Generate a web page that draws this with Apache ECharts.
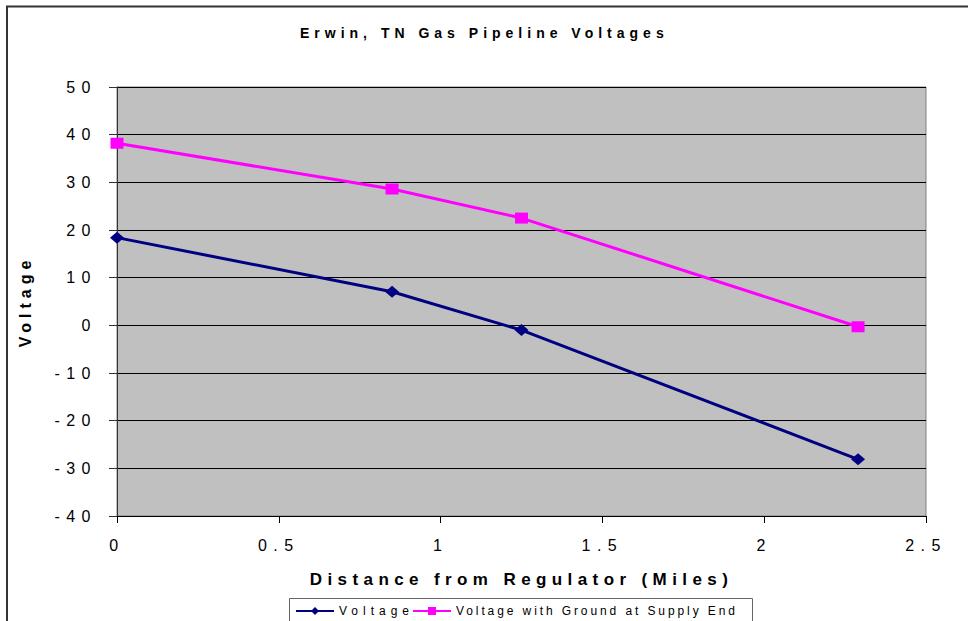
<!DOCTYPE html>
<html>
<head>
<meta charset="utf-8">
<script src="https://cdn.jsdelivr.net/npm/echarts@6/dist/echarts.min.js"></script>
<style>
  html, body { margin: 0; padding: 0; background: #fff; }
  #chart { width: 968px; height: 621px; }
</style>
</head>
<body>
<div id="chart"></div>
<script>
// ---- data ----
const titleText = 'Erwin, TN Gas Pipeline Voltages';
const xAxisName = 'Distance from Regulator (Miles)';
const yAxisName = 'Voltage';
const seriesNames = ['Voltage', 'Voltage with Ground at Supply End'];
const distances = [0, 0.85, 1.25, 2.29];
const voltage = [18.4, 7.05, -1.0, -28.1];
const voltageGround = [38.2, 28.6, 22.5, -0.3];
const xTicks = { min: 0, max: 2.5, interval: 0.5 };
const yTicks = { min: -40, max: 50, interval: 10 };

const FONT = '"Liberation Sans", Arial, sans-serif';

const chart = echarts.init(document.getElementById('chart'), null, { renderer: 'svg' });

const option = {
  animation: false,
  backgroundColor: '#ffffff',
  title: {
    text: titleText,
    left: 300,
    top: 26,
    padding: 0,
    textStyle: { fontFamily: FONT, fontSize: 14, fontWeight: 'bold', color: '#000' }
  },
  graphic: [
    {
      type: 'rect', z: -10, silent: true,
      shape: { x: 7, y: 6.5, width: 1100, height: 800 },
      style: { fill: 'none', stroke: '#333', lineWidth: 2 }
    },
    {
      type: 'rect', z: -5, silent: true,
      shape: { x: 289.5, y: 598.5, width: 463, height: 40 },
      style: { fill: '#fff', stroke: '#666', lineWidth: 1 }
    }
  ],
  legend: [
    {
      data: [seriesNames[0]], left: 295, top: 605, padding: 0,
      itemWidth: 38, itemHeight: 10, itemGap: 0,
      textStyle: { fontFamily: FONT, fontSize: 12, color: '#000' }
    },
    {
      data: [seriesNames[1]], left: 412, top: 605, padding: 0,
      itemWidth: 38, itemHeight: 10, itemGap: 0,
      textStyle: { fontFamily: FONT, fontSize: 12, color: '#000' }
    }
  ],
  grid: {
    left: 117, right: 42, top: 87, bottom: 105,
    show: true, backgroundColor: '#c0c0c0', borderColor: '#808080', borderWidth: 1
  },
  xAxis: {
    type: 'value',
    min: xTicks.min, max: xTicks.max, interval: xTicks.interval,
    name: xAxisName, nameLocation: 'middle', nameGap: 55,
    nameTextStyle: { fontFamily: FONT, fontSize: 17, fontWeight: 'bold', color: '#000' },
    axisLine: { show: true, onZero: false, lineStyle: { color: '#000', width: 1 } },
    axisTick: { show: true, length: 7, lineStyle: { color: '#000' } },
    axisLabel: { margin: 21, fontFamily: FONT, fontSize: 16, color: '#000' },
    splitLine: { show: false }
  },
  yAxis: {
    type: 'value',
    min: yTicks.min, max: yTicks.max, interval: yTicks.interval,
    name: yAxisName, nameLocation: 'middle', nameGap: 84,
    nameTextStyle: { fontFamily: FONT, fontSize: 16, fontWeight: 'bold', color: '#000' },
    axisLine: { show: true, onZero: false, lineStyle: { color: '#333', width: 1 } },
    axisTick: { show: true, length: 8, lineStyle: { color: '#333' } },
    axisLabel: { margin: 20, fontFamily: FONT, fontSize: 16, color: '#000' },
    splitLine: { show: true, lineStyle: { color: '#000', width: 1 } }
  },
  series: [
    {
      name: seriesNames[0], type: 'line',
      data: distances.map((d, i) => [d, voltage[i]]),
      symbol: 'diamond', symbolSize: [14, 12],
      lineStyle: { color: '#000080', width: 3 },
      itemStyle: { color: '#000080' }
    },
    {
      name: seriesNames[1], type: 'line',
      data: distances.map((d, i) => [d, voltageGround[i]]),
      symbol: 'rect', symbolSize: [13, 11],
      lineStyle: { color: '#ff00ff', width: 3 },
      itemStyle: { color: '#ff00ff' }
    }
  ]
};

chart.setOption(option);

// letter spacing like the original export
function spaceText() {
  const texts = document.querySelectorAll('#chart svg text');
  texts.forEach(t => {
    const s = t.textContent;
    let ls = null;
    if (s === titleText) ls = 5;
    else if (s === xAxisName) ls = 5.4;
    else if (s === yAxisName) ls = 5;
    else if (seriesNames.indexOf(s) >= 0) ls = 2.9;
    else if (/^-?[0-9.]+$/.test(s)) ls = 6.5;
    if (ls !== null) t.style.letterSpacing = ls + 'px';
  });
}
chart.on('finished', spaceText);
setTimeout(spaceText, 50);
</script>
</body>
</html>
